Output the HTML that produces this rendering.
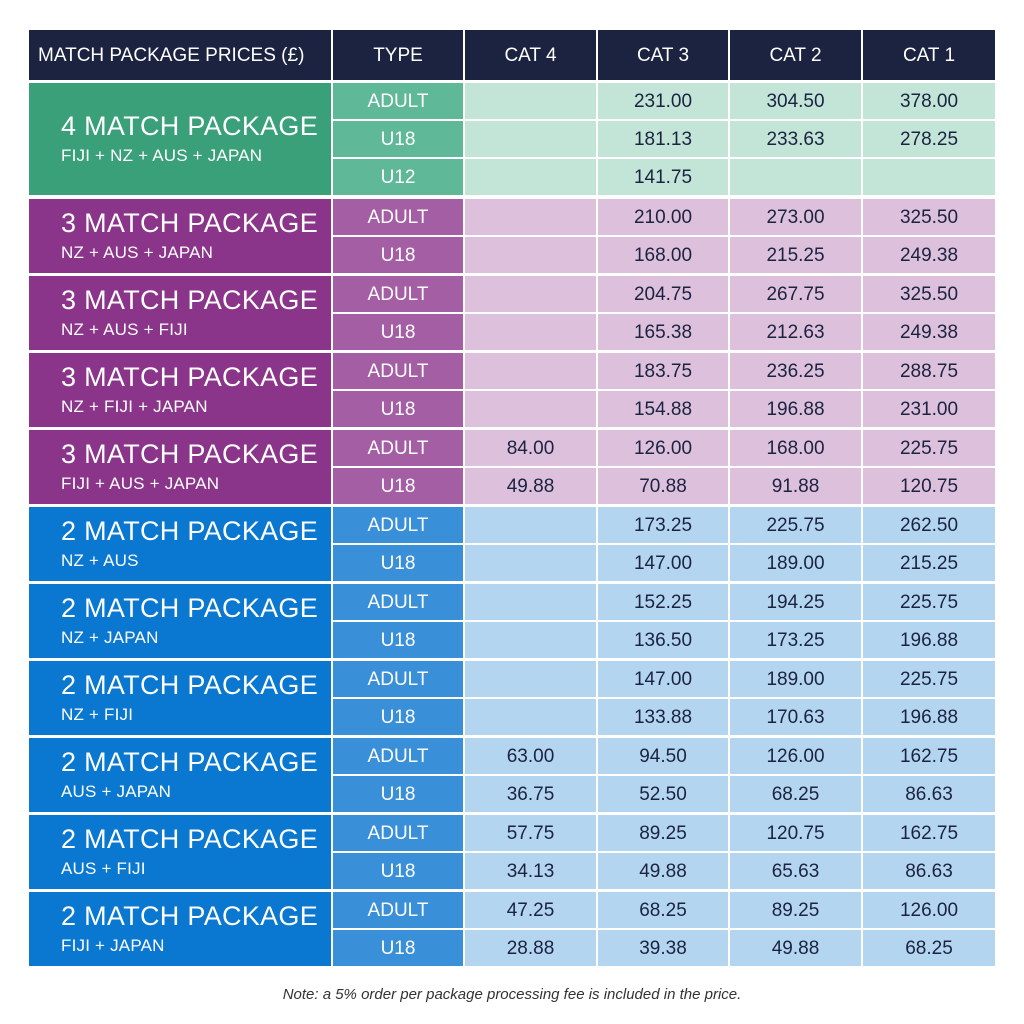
<!DOCTYPE html>
<html><head><meta charset="utf-8"><style>
body{margin:0;width:1024px;height:1024px;background:#fff;position:relative;overflow:hidden;font-family:"Liberation Sans",sans-serif;}
.c{position:absolute;display:flex;align-items:center;justify-content:center;box-sizing:border-box;font-size:19px;color:#1b2340;padding-top:2px;}
.h{background:#1b2340;color:#fff;font-size:19px;}
.p{position:absolute;box-sizing:border-box;color:#fff;padding-left:32px;}
.p .t{font-size:27px;letter-spacing:0.3px;}
.p .s{font-size:17px;margin-top:4px;letter-spacing:0.2px;}
.note{position:absolute;top:986px;left:0;width:1024px;text-align:center;font-style:italic;font-size:15px;color:#333;}
</style></head><body>
<div id="root"></div>
<div class="note">Note: a 5% order per package processing fee is included in the price.</div>
<script>
var cols=[[29,302],[333,130],[465,131],[598,130],[730,131],[863,132]];
var out='';
var hd=['MATCH PACKAGE PRICES (£)','TYPE','CAT 4','CAT 3','CAT 2','CAT 1'];
hd.forEach(function(t,i){out+='<div class="c h" style="left:'+cols[i][0]+'px;top:30px;width:'+cols[i][1]+'px;height:50px;'+(i==0?'justify-content:flex-start;padding-left:9px;':'')+'">'+t+'</div>';});
var G={g:['#3aa07a','#5fb897','#c3e5d8'],p:['#8a3589','#a35ea4','#dcc0dc'],b:['#0a78d0','#3a8fd9','#b3d5ef']};
var groups=[
['g',83,'4 MATCH PACKAGE','FIJI + NZ + AUS + JAPAN',[['ADULT','','231.00','304.50','378.00'],['U18','','181.13','233.63','278.25'],['U12','','141.75','','']]],
['p',199,'3 MATCH PACKAGE','NZ + AUS + JAPAN',[['ADULT','','210.00','273.00','325.50'],['U18','','168.00','215.25','249.38']]],
['p',276,'3 MATCH PACKAGE','NZ + AUS + FIJI',[['ADULT','','204.75','267.75','325.50'],['U18','','165.38','212.63','249.38']]],
['p',353,'3 MATCH PACKAGE','NZ + FIJI + JAPAN',[['ADULT','','183.75','236.25','288.75'],['U18','','154.88','196.88','231.00']]],
['p',430,'3 MATCH PACKAGE','FIJI + AUS + JAPAN',[['ADULT','84.00','126.00','168.00','225.75'],['U18','49.88','70.88','91.88','120.75']]],
['b',507,'2 MATCH PACKAGE','NZ + AUS',[['ADULT','','173.25','225.75','262.50'],['U18','','147.00','189.00','215.25']]],
['b',584,'2 MATCH PACKAGE','NZ + JAPAN',[['ADULT','','152.25','194.25','225.75'],['U18','','136.50','173.25','196.88']]],
['b',661,'2 MATCH PACKAGE','NZ + FIJI',[['ADULT','','147.00','189.00','225.75'],['U18','','133.88','170.63','196.88']]],
['b',738,'2 MATCH PACKAGE','AUS + JAPAN',[['ADULT','63.00','94.50','126.00','162.75'],['U18','36.75','52.50','68.25','86.63']]],
['b',815,'2 MATCH PACKAGE','AUS + FIJI',[['ADULT','57.75','89.25','120.75','162.75'],['U18','34.13','49.88','65.63','86.63']]],
['b',892,'2 MATCH PACKAGE','FIJI + JAPAN',[['ADULT','47.25','68.25','89.25','126.00'],['U18','28.88','39.38','49.88','68.25']]]
];
groups.forEach(function(g){
 var c=G[g[0]],top=g[1],rows=g[4],n=rows.length,rh=36,H=n*rh+(n-1)*2;
 var pt=n==3?28:9;
 out+='<div class="p" style="left:29px;top:'+top+'px;width:302px;height:'+H+'px;background:'+c[0]+';padding-top:'+pt+'px"><div class="t">'+g[2]+'</div><div class="s">'+g[3]+'</div></div>';
 rows.forEach(function(r,j){
  var y=top+j*(rh+2);
  r.forEach(function(v,k){
   var col=cols[k+1];
   out+='<div class="c" style="left:'+col[0]+'px;top:'+y+'px;width:'+col[1]+'px;height:'+rh+'px;background:'+(k==0?c[1]:c[2])+';'+(k==0?'color:#fff;':'')+'">'+v+'</div>';
  });
 });
});
document.getElementById('root').innerHTML=out;
</script>
</body></html>
